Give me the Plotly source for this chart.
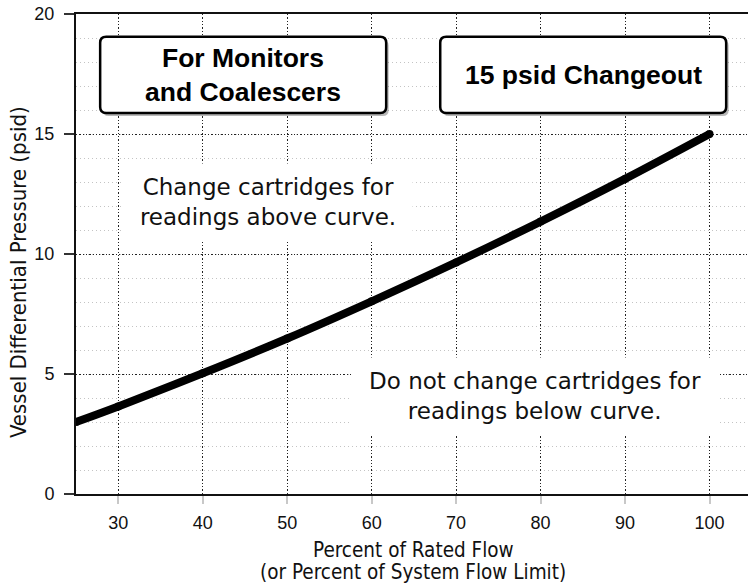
import plotly.graph_objects as go

# ---- data ----
flow_pct = [25, 30, 40, 50, 60, 70, 80, 90, 100]
dp_psid = [3.0, 3.65, 5.03, 6.48, 8.03, 9.65, 11.35, 13.13, 15.0]

x_ticks = [30, 40, 50, 60, 70, 80, 90, 100]
y_ticks = [0, 5, 10, 15, 20]

box_titles = ["For Monitors<br>and Coalescers", "15 psid Changeout"]
note_above = "Change cartridges for<br>readings above curve."
note_below = "Do not change cartridges for<br>readings below curve."
x_title_lines = ["Percent of Rated Flow", "(or Percent of System Flow Limit)"]
y_title = "Vessel Differential Pressure (psid)"

# ---- layout geometry ----
W, H = 748, 584
ML, MR, MT, MB = 76, 0, 14, 90
PW, PH = W - ML - MR, H - MT - MB
X0 = 25
XPX = 8.447            # pixels per x unit
X1 = X0 + PW / XPX
Y0, Y1 = 0, 20
YPX = PH / (Y1 - Y0)

COND = "DejaVu Sans Condensed, Liberation Sans Narrow, DejaVu Sans, sans-serif"
ARIAL = "Liberation Sans, Arial, Helvetica, sans-serif"


def rounded_rect(x0, x1, y0, y1, r_px=6):
    rx, ry = r_px / XPX, r_px / YPX
    return (f"M {x0+rx},{y0} L {x1-rx},{y0} Q {x1},{y0} {x1},{y0+ry} "
            f"L {x1},{y1-ry} Q {x1},{y1} {x1-rx},{y1} L {x0+rx},{y1} "
            f"Q {x0},{y1} {x0},{y1-ry} L {x0},{y0+ry} Q {x0},{y0} {x0+rx},{y0} Z")


fig = go.Figure()
fig.add_trace(go.Scatter(
    x=flow_pct, y=dp_psid, mode="lines+markers",
    line=dict(color="black", width=8, shape="spline", smoothing=1.0),
    marker=dict(color="black", size=8),
    hoverinfo="skip", showlegend=False,
))

# header boxes (x/y extents in data units)
boxes = [(27.86, 61.72), (68.12, 101.97)]
by0, by1 = 15.875, 19.05
shapes = []
for (bx0, bx1) in boxes:
    dx, dy = 2.5 / XPX, 3 / YPX
    shapes.append(dict(type="path", xref="x", yref="y", layer="above",
                       path=rounded_rect(bx0 + dx, bx1 + dx, by0 - dy, by1 - dy),
                       fillcolor="rgba(0,0,0,0.28)", line=dict(width=0)))
    shapes.append(dict(type="path", xref="x", yref="y", layer="above",
                       path=rounded_rect(bx0, bx1, by0, by1),
                       fillcolor="white", line=dict(color="black", width=2.5)))

annotations = []
for (bx0, bx1), t in zip(boxes, box_titles):
    annotations.append(dict(x=(bx0 + bx1) / 2, y=(by0 + by1) / 2, xref="x", yref="y",
                            text=f"<b>{t}</b>", showarrow=False,
                            font=dict(family=ARIAL, size=26.5, color="black")))

annotations.append(dict(x=25 + (268 - 76) / XPX, y=(494 - 202) / YPX, xref="x", yref="y",
                        text=note_above, showarrow=False, align="center",
                        width=272, height=60, borderpad=8, bgcolor="white",
                        font=dict(family="DejaVu Sans", size=23, color="#111")))
annotations.append(dict(x=25 + (535 - 76) / XPX, y=(494 - 396) / YPX, xref="x", yref="y",
                        text=note_below, showarrow=False, align="center",
                        width=350, height=60, borderpad=8, bgcolor="white",
                        font=dict(family="DejaVu Sans", size=23, color="#111")))

# axis titles
annotations.append(dict(x=(18 - ML) / PW, y=(494 - 272) / PH, xref="paper", yref="paper",
                        text=y_title, textangle=-90, showarrow=False,
                        xanchor="center", yanchor="middle",
                        font=dict(family=COND, size=22, color="#111")))
for line, py in zip(x_title_lines, [550, 572]):
    annotations.append(dict(x=(413 - ML) / PW, y=(494 - py) / PH, xref="paper", yref="paper",
                            text=line, showarrow=False, xanchor="center", yanchor="middle",
                            borderpad=0,
                            font=dict(family=COND, size=20.5, color="#111")))

fig.update_layout(
    width=W, height=H,
    margin=dict(l=ML, r=MR, t=MT, b=MB, pad=0),
    paper_bgcolor="white", plot_bgcolor="white",
    shapes=shapes, annotations=annotations,
    showlegend=False,
)
fig.update_xaxes(
    range=[X0, X1], tickvals=x_ticks, ticktext=[str(v) for v in x_ticks],
    showline=True, linecolor="#111", linewidth=2, mirror=True,
    ticks="outside", ticklen=8, tickwidth=2, tickcolor="#c8c8c8",
    tickfont=dict(family=ARIAL, size=18, color="#111"), ticklabelstandoff=3,
    showgrid=True, gridcolor="#222", gridwidth=1.3, griddash="1.3px,2px",
    zeroline=False,
)
fig.update_yaxes(
    range=[Y0, Y1], tickvals=y_ticks, ticktext=[str(v) for v in y_ticks],
    showline=True, linecolor="#111", linewidth=2,
    ticks="outside", ticklen=10, tickwidth=1.5, tickcolor="#333",
    tickfont=dict(family=ARIAL, size=18, color="#111"), ticklabelstandoff=6,
    showgrid=True, gridcolor="#222", gridwidth=1.3, griddash="1.3px,2px",
    minor=dict(dtick=1, showgrid=True, gridcolor="#c4c4c4", gridwidth=1, griddash="1px,3px",
               ticks=""),
    zeroline=False,
)

fig.write_html("out.html", config={"displayModeBar": False},
               post_script="document.body.style.margin='0';document.body.style.overflow='hidden';")
